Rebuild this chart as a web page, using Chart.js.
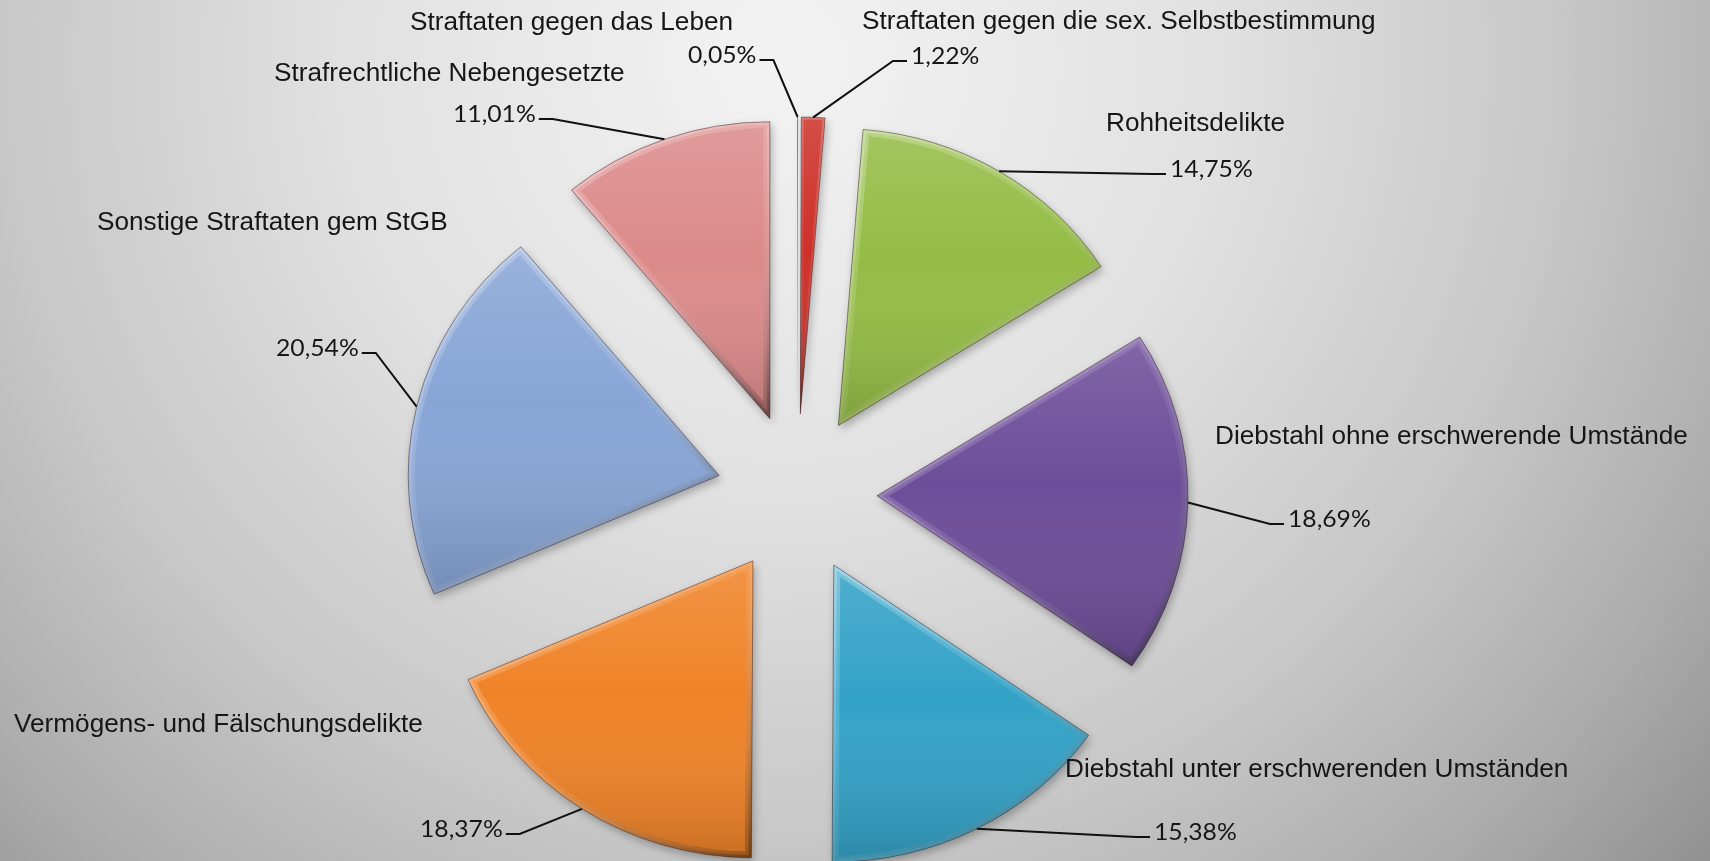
<!DOCTYPE html>
<html>
<head>
<meta charset="utf-8">
<title>Straftaten</title>
<script src="https://cdn.jsdelivr.net/npm/chart.js@4/dist/chart.umd.min.js"></script>
<style>
    html, body { margin: 0; padding: 0; overflow: hidden; background: #d0d0d0; }
    canvas { display: block; }
</style>
</head>
<body>
<canvas id="myChart" width="1710" height="861"></canvas>
<script>
// data
var categories = [
    'Straftaten gegen das Leben',
    'Straftaten gegen die sex. Selbstbestimmung',
    'Rohheitsdelikte',
    'Diebstahl ohne erschwerende Umstände',
    'Diebstahl unter erschwerenden Umständen',
    'Vermögens- und Fälschungsdelikte',
    'Sonstige Straftaten gem StGB',
    'Strafrechtliche Nebengesetzte'
];
var shares = [0.05, 1.22, 14.75, 18.69, 15.38, 18.37, 20.54, 11.01];
var sliceColors = ['#4f81bd', '#cd312a', '#94bc45', '#6d4d99', '#33a2c7', '#f08328', '#88a5d6', '#dc8a8a'];

// label placement (left x, baseline y)
var namePos = [[410, 30], [862, 29], [1106, 131], [1215, 444], [1065, 777], [14, 732], [97, 230], [274, 81]];
var pctPos = [[688, 63], [911, 64], [1170, 177], [1288, 527], [1154, 840], [420, 837], [276, 356], [453, 122]];
var leaderSide = ['right', 'left', 'left', 'left', 'left', 'right', 'right', 'right'];

var explode = 80;
var squash = 0.955;

function pctText(v) {
    return v.toFixed(2).replace('.', ',') + '%';
}

function slicePath(c, p) {
    c.beginPath();
    c.moveTo(p.x, p.y);
    c.arc(p.x, p.y, p.outerRadius, p.startAngle, p.endAngle);
    c.closePath();
}

function sliceBox(p) {
    var xs = [p.x], ys = [p.y];
    for (var k = 0; k <= 30; k++) {
        var a = p.startAngle + (p.endAngle - p.startAngle) * k / 30;
        xs.push(p.x + Math.cos(a) * p.outerRadius);
        ys.push(p.y + Math.sin(a) * p.outerRadius);
    }
    return {
        x0: Math.min.apply(null, xs), x1: Math.max.apply(null, xs),
        y0: Math.min.apply(null, ys), y1: Math.max.apply(null, ys)
    };
}

var backgroundPlugin = {
    id: 'slideBackground',
    beforeDraw: function (chart) {
        var c = chart.ctx;
        var g = c.createRadialGradient(780, 60, 0, 780, 60, 1250);
        g.addColorStop(0, '#f3f3f3');
        g.addColorStop(0.35, '#e1e1e1');
        g.addColorStop(0.62, '#c8c8c8');
        g.addColorStop(0.82, '#adadad');
        g.addColorStop(1, '#8e8e8e');
        c.save();
        c.fillStyle = g;
        c.fillRect(0, 0, chart.width, chart.height);
        c.restore();
    }
};

// draws the slices pulled apart, with a soft bevel look
var explodedPlugin = {
    id: 'explodedBevel',
    beforeDatasetDraw: function (chart, args) {
        var c = chart.ctx;
        args.meta.data.forEach(function (arc) {
            var p = arc.getProps(['x', 'y', 'startAngle', 'endAngle', 'outerRadius']);
            var mid = (p.startAngle + p.endAngle) / 2;
            var span = p.endAngle - p.startAngle;
            c.save();
            c.translate(p.x + Math.cos(mid) * explode, p.y + Math.sin(mid) * explode);
            c.scale(1, squash);
            c.translate(-p.x, -p.y);

            if (span < 0.01) {
                arc.draw(c);
                c.restore();
                return;
            }

            c.shadowColor = 'rgba(0,0,0,0.28)';
            c.shadowBlur = 9;
            c.shadowOffsetX = 2;
            c.shadowOffsetY = 4;
            arc.draw(c);
            c.shadowColor = 'transparent';

            var b = sliceBox(p);
            c.save();
            slicePath(c, p);
            c.clip();

            var shade = c.createLinearGradient(0, b.y0, 0, b.y1);
            shade.addColorStop(0, 'rgba(255,255,255,0.14)');
            shade.addColorStop(0.45, 'rgba(255,255,255,0)');
            shade.addColorStop(1, 'rgba(0,0,0,0.16)');
            c.fillStyle = shade;
            c.fillRect(b.x0 - 2, b.y0 - 2, b.x1 - b.x0 + 4, b.y1 - b.y0 + 4);

            var thin = span < 0.3;
            var bevel = c.createLinearGradient(b.x0, b.y0, b.x1, b.y1);
            bevel.addColorStop(0, thin ? 'rgba(255,255,255,0.18)' : 'rgba(255,255,255,0.28)');
            bevel.addColorStop(0.5, 'rgba(255,255,255,0.08)');
            bevel.addColorStop(1, 'rgba(0,0,0,0.25)');
            c.strokeStyle = bevel;
            c.lineJoin = 'round';
            slicePath(c, p);
            c.lineWidth = thin ? 5 : 13;
            c.stroke();
            c.lineWidth = thin ? 2 : 6;
            c.stroke();
            c.restore();

            slicePath(c, p);
            c.lineWidth = 1;
            c.strokeStyle = 'rgba(40,20,20,0.45)';
            c.stroke();
            c.restore();
        });
        return false;
    }
};

var labelPlugin = {
    id: 'sliceLabels',
    afterDatasetsDraw: function (chart) {
        var c = chart.ctx;
        var meta = chart.getDatasetMeta(0);
        c.save();
        c.fillStyle = '#161616';
        c.textBaseline = 'alphabetic';
        c.textAlign = 'left';
        c.font = '25px "Liberation Sans", Arial, sans-serif';
        namePos.forEach(function (pos, i) {
            c.save();
            c.translate(pos[0], pos[1]);
            c.scale(1.047, 1);
            c.fillText(categories[i], 0, 0);
            c.restore();
        });

        c.font = '24px Lato, "Open Sans", sans-serif';
        c.strokeStyle = '#111';
        c.lineWidth = 2;
        meta.data.forEach(function (arc, i) {
            var p = arc.getProps(['x', 'y', 'startAngle', 'endAngle', 'outerRadius']);
            var mid = (p.startAngle + p.endAngle) / 2;
            var ax = p.x + Math.cos(mid) * (explode + p.outerRadius);
            var ay = p.y + Math.sin(mid) * explode + Math.sin(mid) * p.outerRadius * squash;
            var txt = pctText(shares[i]);
            var w = c.measureText(txt).width * 1.03;
            var tx = pctPos[i][0], ty = pctPos[i][1];
            c.save();
            c.translate(tx, ty);
            c.scale(1.03, 1);
            c.fillText(txt, 0, 0);
            c.restore();
            var sx, ex;
            if (leaderSide[i] === 'right') {
                sx = tx + w + 3;
                ex = sx + 14;
            } else {
                sx = tx - 4;
                ex = sx - 14;
            }
            c.beginPath();
            c.moveTo(sx, ty - 3);
            c.lineTo(ex, ty - 3);
            c.lineTo(ax, ay);
            c.stroke();
        });
        c.restore();
    }
};

var ctx = document.getElementById('myChart');

new Chart(ctx, {
    type: 'pie',
    data: {
        labels: categories,
        datasets: [{
            data: shares,
            backgroundColor: sliceColors,
            borderWidth: 0
        }]
    },
    options: {
        responsive: false,
        devicePixelRatio: 1,
        animation: false,
        events: [],
        radius: 311,
        layout: {
            padding: { left: 0, right: 116, top: 127, bottom: 0 }
        },
        plugins: {
            legend: { display: false },
            tooltip: { enabled: false }
        }
    },
    plugins: [backgroundPlugin, explodedPlugin, labelPlugin]
});
</script>
</body>
</html>
